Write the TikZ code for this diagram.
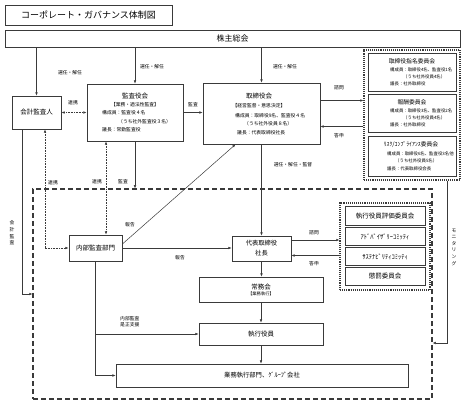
\documentclass[tikz,border=0pt]{standalone}
\usepackage{fontspec}
\setmainfont{Noto Sans CJK JP}
\usetikzlibrary{arrows.meta,calc}
\definecolor{boxline}{HTML}{3A3A3A}
\newcommand{\ttlsize}{\fontsize{6.5}{7.5}\selectfont}
\newcommand{\txtsize}{\fontsize{4.8}{5.6}\selectfont}
\newcommand{\cmtsize}{\fontsize{4.4}{5.2}\selectfont}
\newcommand{\lblsize}{\fontsize{4.8}{6.6}\selectfont}
\tikzset{
  box/.style={draw=boxline,line width=0.8pt,inner sep=0pt,font=\ttlsize},
  grp/.style={draw=boxline,line width=1.1pt,densely dotted,inner sep=0pt},
  txt/.style={font=\txtsize,inner sep=0pt},
  cmt/.style={font=\cmtsize,inner sep=0pt},
  lbl/.style={font=\lblsize,inner sep=0pt,align=center},
  arr/.style={-{Latex[length=3.2pt,width=2.6pt]},line width=0.5pt,draw=boxline},
  dotarr/.style={{Latex[length=3.2pt,width=2.6pt]}-{Latex[length=3.2pt,width=2.6pt]},line width=0.6pt,densely dotted,draw=boxline},
}

\begin{document}
\begin{tikzpicture}[x=1pt,y=-1pt]
  \useasboundingbox (0,0) rectangle (463,403);

  % execution area (dashed frame)
  \node[draw=boxline,line width=1.1pt,dash pattern=on 5pt off 3pt,inner sep=0pt,
        minimum width=399pt,minimum height=210pt] (exec) at (232.5,294) {};

  % title and shareholders
  \node[box,minimum width=167pt,minimum height=20pt,font=\fontsize{9}{10}\selectfont] (title) at (88.5,15) {コーポレート・ガバナンス体制図};
  \node[box,minimum width=455pt,minimum height=17pt,font=\fontsize{8}{9}\selectfont] (soukai) at (232.5,38.5) {株主総会};

  % accounting auditor
  \node[box,minimum width=49pt,minimum height=33pt] (kaikei) at (36.5,112.5) {会計監査人};

  % audit board
  \node[box,minimum width=96pt,minimum height=57pt] (kansa) at (135,112.5) {};
  \node[font=\ttlsize,inner sep=0pt] (kansaT) at (135,96) {監査役会};
  \node[txt] (kansaS) at (135,104.5) {【業務・適法性監査】};
  \node[txt,anchor=west] (kansaA) at (102,113) {構成員：監査役４名};
  \node[txt,anchor=west] (kansaB) at (118,121.5) {（うち社外監査役３名）};
  \node[txt,anchor=west] (kansaC) at (102,130) {議長：常勤監査役};

  % board of directors
  \node[box,minimum width=117pt,minimum height=61pt] (tori) at (261.5,113.5) {};
  \node[font=\ttlsize,inner sep=0pt] (toriT) at (259,96) {取締役会};
  \node[txt] (toriS) at (259,105.5) {【経営監督・意思決定】};
  \node[txt,anchor=west] (toriA) at (235,115.5) {構成員：取締役9名、監査役４名};
  \node[txt,anchor=west] (toriB) at (244,124) {（うち社外役員８名）};
  \node[txt,anchor=west] (toriC) at (237,132.5) {議長：代表取締役社長};

  % committees of the board
  \node[grp,minimum width=96pt,minimum height=130pt] (iin) at (412,115) {};
  \node[box,minimum width=88pt,minimum height=38pt] (shimei) at (412,72) {};
  \node[font=\fontsize{5.8}{6.5}\selectfont,inner sep=0pt] (shimeiT) at (412,61) {取締役指名委員会};
  \node[cmt,anchor=west] (shimeiA) at (390,69.5) {構成員：取締役4名、監査役1名};
  \node[cmt,anchor=west] (shimeiB) at (403,76.5) {（うち社外役員4名）};
  \node[cmt,anchor=west] (shimeiC) at (390,84) {議長：社外取締役};
  \node[box,minimum width=88pt,minimum height=38pt] (houshu) at (412,113) {};
  \node[font=\fontsize{5.8}{6.5}\selectfont,inner sep=0pt] (houshuT) at (412,102) {報酬委員会};
  \node[cmt,anchor=west] (houshuA) at (390,110.5) {構成員：取締役3名、監査役2名};
  \node[cmt,anchor=west] (houshuB) at (403,117.5) {（うち社外役員4名）};
  \node[cmt,anchor=west] (houshuC) at (390,125) {議長：社外取締役};
  \node[box,minimum width=88pt,minimum height=40pt] (risk) at (412,156.5) {};
  \node[font=\fontsize{5.8}{6.5}\selectfont,inner sep=0pt] (riskT) at (411,145) {ﾘｽｸ/ｺﾝﾌﾟﾗｲｱﾝｽ委員会};
  \node[cmt,anchor=west] (riskA) at (387,153.5) {構成員：取締役6名、監査役3名他};
  \node[cmt,anchor=west] (riskB) at (395,161) {（うち社外役員5名）};
  \node[cmt,anchor=west] (riskC) at (387,168.5) {議長：代表取締役会長};

  % internal audit and president
  \node[box,minimum width=53pt,minimum height=26pt] (naibu) at (95.5,248) {内部監査部門};
  \node[box,minimum width=59pt,minimum height=25pt,align=center,font=\fontsize{6.3}{10}\selectfont] (shachou) at (261.5,248.5) {代表取締役\\社長};

  % executive committees
  \node[grp,minimum width=90pt,minimum height=87pt] (shikkou) at (385,246.5) {};
  \node[box,minimum width=80pt,minimum height=18.5pt] (hyouka) at (385,216) {執行役員評価委員会};
  \node[box,minimum width=80pt,minimum height=18.5pt] (advisory) at (385,236.5) {ｱﾄﾞﾊﾞｲｻﾞﾘｰｺﾐｯﾃｨ};
  \node[box,minimum width=80pt,minimum height=18.5pt] (sustain) at (385,256.5) {ｻｽﾃﾅﾋﾞﾘﾃｨｺﾐｯﾃｨ};
  \node[box,minimum width=80pt,minimum height=18.5pt] (choubatsu) at (385,276.5) {懲罰委員会};

  % execution chain
  \node[box,minimum width=124pt,minimum height=25pt,align=center] (joumu) at (261,289.5) {常務会\\[-1.5pt]{\fontsize{4.3}{5}\selectfont【業務執行】}};
  \node[box,minimum width=124pt,minimum height=22pt] (yakuin) at (261,334) {執行役員};
  \node[box,minimum width=292pt,minimum height=23pt,font=\fontsize{6.3}{7}\selectfont] (gyoumu) at (262,375.5) {業務執行部門、ｸﾞﾙｰﾌﾟ会社};

  % appointment from shareholders
  \draw[arr] (kaikei.north |- soukai.south) -- (kaikei.north);
  \draw[arr] (kansa.north |- soukai.south) -- (kansa.north);
  \draw[arr] (tori.north |- soukai.south) -- (tori.north);
  \node[lbl] (senA) at (70,73) {選任・解任};
  \node[lbl] (senB) at (152,67) {選任・解任};
  \node[lbl] (senC) at (285,67) {選任・解任};

  % audit relations
  \draw[dotarr] (kaikei.east) -- (kaikei.east -| kansa.west);
  \node[lbl] (renA) at (73,103) {連携};
  \draw[arr] (kansa.east) -- (kansa.east -| tori.west);
  \node[lbl] (kansaL) at (193,105) {監査};
  \draw[arr] (kansa.south) -- (kansa.south |- exec.north);
  \node[lbl] (kansaL2) at (123,182) {監査};
  \draw[dotarr] ([xshift=10.5pt]naibu.north |- kansa.south) -- ([xshift=10.5pt]naibu.north);
  \node[lbl] (renB) at (97,182) {連携};
  \draw[dotarr] ([xshift=8.5pt]kaikei.south) |- (naibu.west);
  \node[lbl] (renC) at (53,183) {連携};
  \draw[arr] ([xshift=-14.5pt]kaikei.south) |- (exec.west);
  \node[lbl] (kaikeiL) at (12,233) {会\\計\\監\\査};

  % board and committees
  \draw[arr] ([yshift=13pt]tori.east) -- ([yshift=13pt]tori.east -| iin.west);
  \draw[arr] ([yshift=-13pt]tori.east -| iin.west) -- ([yshift=-13pt]tori.east);
  \node[lbl] (shimonA) at (339,88) {諮問};
  \node[lbl] (toushinA) at (339,136) {答申};
  \draw[arr] (tori.south) -- (shachou.north);
  \node[lbl] (kantoku) at (293,165) {選任・解任・監督};
  \draw[arr] ([xshift=35pt]iin.south) |- ([yshift=-49pt]exec.east);
  \node[lbl] (monitor) at (454,247) {モ\\ニ\\タ\\リ\\ン\\グ};

  % reporting
  \draw[arr] ([yshift=4pt]naibu.east) -- ([xshift=-26pt]tori.south);
  \node[lbl] (houkokuA) at (130,225) {報告};
  \draw[arr] (naibu.east) -- (naibu.east -| shachou.west);
  \node[lbl] (houkokuB) at (180,258) {報告};

  % president and executive committees
  \draw[arr] ([yshift=8.5pt]shachou.east) -- ([yshift=8.5pt]shachou.east -| shikkou.west);
  \draw[arr] ([yshift=-7pt]shachou.east -| shikkou.west) -- ([yshift=-7pt]shachou.east);
  \node[lbl] (shimonB) at (314,233) {諮問};
  \node[lbl] (toushinB) at (314,264) {答申};

  % execution chain
  \draw[arr] (shachou.south) -- (shachou.south |- joumu.north);
  \draw[arr] (joumu.south) -- (yakuin.north);
  \draw[arr] (yakuin.south) -- (yakuin.south |- gyoumu.north);
  \draw[arr] (naibu.south) |- (gyoumu.west);
  \draw[arr] (naibu.south |- yakuin.west) -- (yakuin.west);
  \node[lbl,align=left,anchor=west] (zesei) at (120,321.5) {内部監査\\是正支援};
\end{tikzpicture}
\end{document}
